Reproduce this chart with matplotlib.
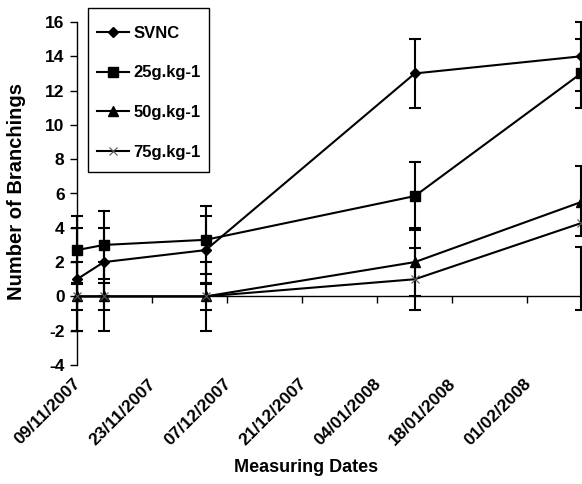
import matplotlib
matplotlib.use("Agg")
import matplotlib.pyplot as plt
import matplotlib.dates as mdates
from matplotlib.patches import Rectangle
from matplotlib.transforms import ScaledTranslation
from datetime import datetime, timedelta

plt.rcParams['font.family'] = ['Liberation Sans', 'DejaVu Sans']
plt.rcParams['axes.unicode_minus'] = False

dates = [datetime(2007, 11, 9), datetime(2007, 11, 14), datetime(2007, 12, 3),
         datetime(2008, 1, 11), datetime(2008, 2, 11)]

svnc = [1.0, 2.0, 2.7, 13.0, 14.0]
svnc_lo = [-2.0, 0.0, 0.7, 11.0, 12.0]
svnc_hi = [4.0, 4.0, 4.7, 15.0, 16.0]

g25 = [2.7, 3.0, 3.3, 5.85, 13.0]
g25_lo = [0.7, 1.0, 1.3, 3.85, 11.0]
g25_hi = [4.7, 5.0, 5.3, 7.85, 15.0]

g50 = [0.0, 0.0, 0.0, 2.0, 5.5]
g50_lo = [-2.0, -2.0, -2.0, 0.0, 3.55]
g50_hi = [2.0, 2.0, 2.0, 4.0, 7.6]

g75 = [0.0, 0.0, 0.0, 1.0, 4.27]
g75_lo = [-0.8, -0.8, -0.8, -0.8, -0.82]
g75_hi = [0.8, 0.8, 0.8, 2.8, 2.87]

labels = ['SVNC', '25g.kg-1', '50g.kg-1', '75g.kg-1']
tick_dates = [datetime(2007, 11, 9) + timedelta(days=14 * i) for i in range(7)]
yticks = [-4, -2, 0, 2, 4, 6, 8, 10, 12, 14, 16]

W, H = 582, 484
fig = plt.figure(figsize=(W / 100, H / 100), dpi=100)
ax = fig.add_axes([77 / W, 1 - 365 / H, (581 - 77) / W, (365 - 22) / H])

xs = mdates.date2num(dates)
series = [
    (svnc, svnc_lo, svnc_hi, dict(marker='D', ms=5, color='black')),
    (g25, g25_lo, g25_hi, dict(marker='s', ms=7, color='black')),
    (g50, g50_lo, g50_hi, dict(marker='^', ms=7, color='black')),
    (g75, g75_lo, g75_hi, dict(marker='x', ms=6, color='black', mec='#555555', mew=0.8)),
]
for (y, lo, hi, st), lab in zip(series, labels):
    ax.vlines(xs, lo, hi, color='black', lw=1.5, clip_on=False, zorder=2)
    ax.plot(xs, lo, ls='none', marker='_', ms=8, mew=1.5, color='black', clip_on=False, zorder=2)
    ax.plot(xs, hi, ls='none', marker='_', ms=8, mew=1.5, color='black', clip_on=False, zorder=2)
    ax.plot(xs, y, lw=1.5, label=lab, clip_on=False, zorder=3, **st)

ax.set_xlim(mdates.date2num(dates[0]), mdates.date2num(dates[-1]))
ax.set_ylim(-4, 16)
ax.set_yticks(yticks)
ax.tick_params(axis='y', direction='out', length=5, width=1, labelsize=12.5, pad=4)
for t in ax.get_yticklabels():
    t.set_fontweight('bold')

for s in ['top', 'right']:
    ax.spines[s].set_visible(False)
ax.spines['left'].set_linewidth(1)
ax.spines['bottom'].set_position(('data', 0))
ax.spines['bottom'].set_linewidth(1)
ax.set_xticks(mdates.date2num(tick_dates).tolist() + [mdates.date2num(dates[-1])])
ax.tick_params(axis='x', direction='out', length=5, width=1, labelbottom=False)

sec = ax.secondary_xaxis(0)
sec.set_xticks(mdates.date2num(tick_dates))
sec.set_xticklabels([d.strftime('%d/%m/%Y') for d in tick_dates], rotation=45,
                    ha='right', rotation_mode='anchor', fontweight='bold', fontsize=12.5)
sec.tick_params(axis='x', length=0, pad=8)
sec.spines['bottom'].set_visible(False)
shift = ScaledTranslation(-4 / 100, 0, fig.dpi_scale_trans)
for t in sec.get_xticklabels():
    t.set_transform(t.get_transform() + shift)

fig.text(17 / W, 1 - 191 / H, 'Number of Branchings', fontsize=14.5, fontweight='bold',
         rotation=90, ha='center', va='center')
fig.text(306 / W, 1 - 468 / H, 'Measuring Dates', fontsize=13, fontweight='bold',
         ha='center', va='center')

box = Rectangle((88 / W, 1 - 172 / H), (209 - 88) / W, (172 - 8) / H,
                transform=fig.transFigure, fill=True, facecolor='white',
                edgecolor='black', lw=1, zorder=5, clip_on=False)
ax.add_patch(box)
leg = ax.legend(loc='upper left', bbox_to_anchor=(97 / W, 1 - 26 / H),
                bbox_transform=fig.transFigure, frameon=False,
                labelspacing=1.47, handlelength=1.9,
                handletextpad=0.3, borderpad=0, borderaxespad=0,
                prop=dict(weight='bold', size=12))
leg.set_zorder(6)

fig.savefig('out.png', dpi=100)
